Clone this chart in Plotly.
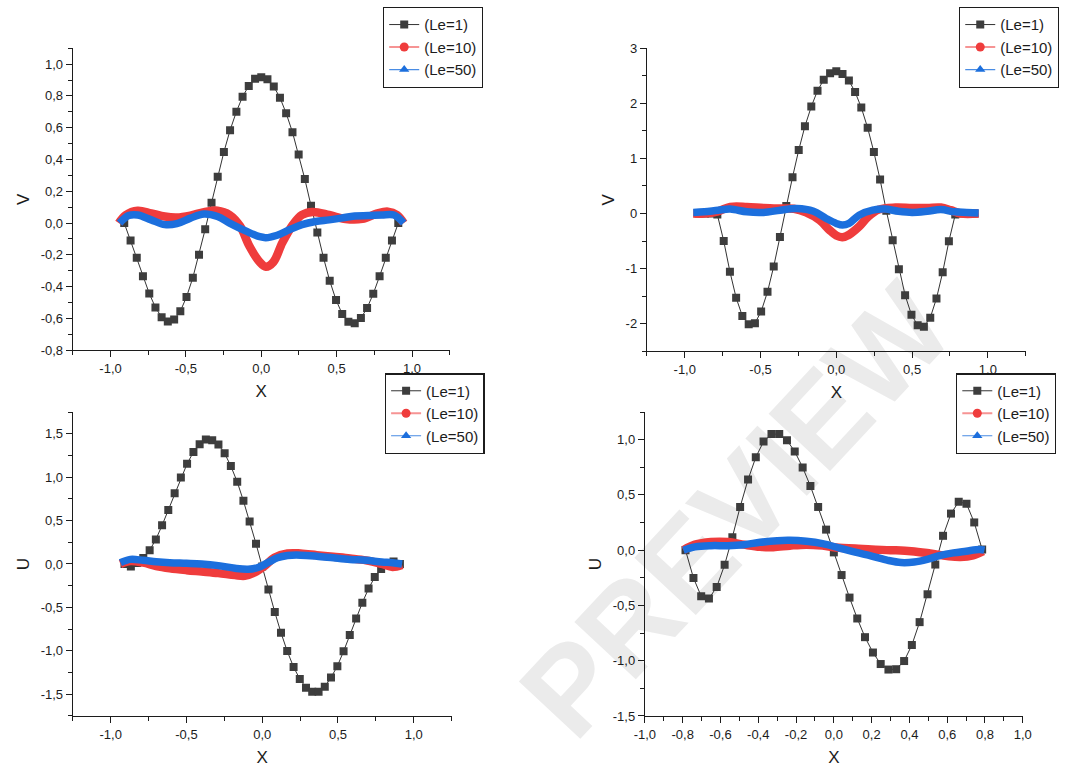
import plotly.graph_objects as go

# ---------------- data ----------------
LABELS = ["(Le=1)", "(Le=10)", "(Le=50)"]

X45 = [-0.909, -0.867, -0.826, -0.785, -0.743, -0.702, -0.661, -0.620, -0.578, -0.537,
       -0.496, -0.454, -0.413, -0.372, -0.330, -0.289, -0.248, -0.207, -0.165, -0.124,
       -0.083, -0.041, 0.0, 0.041, 0.083, 0.124, 0.165, 0.207, 0.248, 0.289,
       0.330, 0.372, 0.413, 0.454, 0.496, 0.537, 0.578, 0.620, 0.661, 0.702,
       0.743, 0.785, 0.826, 0.867, 0.909]
X39 = [-0.785, -0.743, -0.702, -0.661, -0.620, -0.578, -0.537, -0.496, -0.454, -0.413,
       -0.372, -0.330, -0.289, -0.248, -0.207, -0.165, -0.124, -0.083, -0.041, 0.0,
       0.041, 0.083, 0.124, 0.165, 0.207, 0.248, 0.289, 0.330, 0.372, 0.413,
       0.454, 0.496, 0.537, 0.578, 0.620, 0.661, 0.702, 0.743, 0.785]

# Panel 1 (V, top-left)
P1_LE1 = [0.0, -0.109, -0.219, -0.334, -0.443, -0.531, -0.592, -0.619, -0.607, -0.555,
          -0.465, -0.344, -0.199, -0.039, 0.127, 0.291, 0.447, 0.584, 0.701, 0.795,
          0.863, 0.908, 0.918, 0.904, 0.859, 0.789, 0.691, 0.572, 0.432, 0.277,
          0.109, -0.059, -0.219, -0.363, -0.484, -0.572, -0.621, -0.631, -0.598, -0.535,
          -0.445, -0.334, -0.219, -0.109, 0.0]
P1_LE10_X = [-0.945, -0.90, -0.82, -0.73, -0.64, -0.56, -0.47, -0.38, -0.29, -0.21, -0.14, -0.08,
             -0.01, 0.03, 0.08, 0.14, 0.21, 0.27, 0.34, 0.45, 0.56, 0.67, 0.77, 0.84, 0.90, 0.945]
P1_LE10_Y = [0.0, 0.05, 0.078, 0.061, 0.041, 0.035, 0.047, 0.068, 0.078, 0.051, -0.02, -0.143,
             -0.246, -0.275, -0.246, -0.123, -0.01, 0.051, 0.070, 0.051, 0.025, 0.026, 0.061, 0.072, 0.051, 0.0]
P1_LE50_X = [-0.94, -0.88, -0.82, -0.73, -0.64, -0.56, -0.47, -0.38, -0.29, -0.21, -0.10, -0.01,
             0.03, 0.10, 0.19, 0.27, 0.36, 0.45, 0.53, 0.62, 0.71, 0.80, 0.88, 0.945]
P1_LE50_Y = [0.0, 0.047, 0.051, 0.02, -0.01, -0.004, 0.031, 0.057, 0.041, 0.0, -0.051, -0.086,
             -0.092, -0.078, -0.041, -0.01, 0.01, 0.02, 0.031, 0.045, 0.047, 0.051, 0.051, 0.0]

# Panel 2 (V, top-right)
P2_LE1 = [0.0, 0.0, 0.0, -0.02, -0.498, -1.056, -1.530, -1.862, -2.011, -1.993,
          -1.779, -1.423, -0.961, -0.427, 0.136, 0.658, 1.151, 1.584, 1.940, 2.230,
          2.426, 2.544, 2.580, 2.533, 2.414, 2.206, 1.922, 1.554, 1.115, 0.617,
          0.05, -0.486, -1.014, -1.483, -1.839, -2.028, -2.058, -1.892, -1.542, -1.068,
          -0.504, -0.02, 0.0, 0.0, 0.0]
P2_LE10_X = [-0.944, -0.87, -0.78, -0.70, -0.59, -0.48, -0.37, -0.28, -0.20, -0.11, -0.045, 0.0,
             0.04, 0.084, 0.15, 0.21, 0.28, 0.39, 0.50, 0.60, 0.69, 0.755, 0.82, 0.94]
P2_LE10_Y = [0.0, 0.0, 0.04, 0.12, 0.12, 0.10, 0.09, 0.085, 0.02, -0.12, -0.30, -0.40,
             -0.43, -0.385, -0.24, -0.06, 0.07, 0.107, 0.10, 0.10, 0.107, 0.06, 0.0, 0.0]
P2_LE50_X = [-0.944, -0.87, -0.78, -0.70, -0.59, -0.48, -0.37, -0.26, -0.15, -0.067, 0.0, 0.041,
             0.084, 0.15, 0.24, 0.32, 0.41, 0.50, 0.60, 0.69, 0.78, 0.86, 0.94]
P2_LE50_Y = [0.02, 0.03, 0.06, 0.08, 0.03, 0.02, 0.06, 0.09, 0.04, -0.09, -0.18, -0.21,
             -0.18, -0.03, 0.06, 0.08, 0.04, 0.02, 0.04, 0.07, 0.03, 0.02, 0.01]

# Panel 3 (U, bottom-left)
P3_LE1 = [0.0, -0.03, 0.01, 0.07, 0.158, 0.283, 0.445, 0.622, 0.814, 0.995,
          1.153, 1.289, 1.380, 1.432, 1.425, 1.376, 1.274, 1.127, 0.946, 0.727,
          0.490, 0.234, -0.03, -0.294, -0.554, -0.792, -1.003, -1.187, -1.323, -1.425,
          -1.470, -1.470, -1.413, -1.308, -1.176, -1.006, -0.818, -0.629, -0.445, -0.283,
          -0.151, -0.057, 0.0, 0.03, 0.0]
P3_LE10_X = [-0.936, -0.87, -0.785, -0.70, -0.61, -0.50, -0.40, -0.29, -0.18, -0.115, -0.05,
             0.015, 0.08, 0.167, 0.253, 0.36, 0.47, 0.58, 0.685, 0.79, 0.86, 0.923]
P3_LE10_Y = [0.0, 0.034, 0.015, -0.023, -0.049, -0.071, -0.087, -0.105, -0.128, -0.136, -0.098,
             -0.023, 0.071, 0.121, 0.121, 0.102, 0.083, 0.064, 0.042, 0.0, -0.034, -0.011]
P3_LE50_X = [-0.936, -0.87, -0.785, -0.70, -0.61, -0.50, -0.40, -0.29, -0.18, -0.093, -0.028,
             0.037, 0.10, 0.167, 0.253, 0.36, 0.47, 0.58, 0.685, 0.79, 0.86, 0.923]
P3_LE50_Y = [0.015, 0.053, 0.042, 0.026, 0.015, 0.008, 0.0, -0.019, -0.049, -0.060, -0.041,
             0.015, 0.071, 0.098, 0.102, 0.09, 0.071, 0.053, 0.042, 0.023, 0.015, 0.0]

# Panel 4 (U, bottom-right)
P4_LE1 = [0.0, -0.251, -0.417, -0.438, -0.334, -0.133, 0.118, 0.391, 0.639, 0.840,
          0.982, 1.050, 1.050, 0.994, 0.893, 0.749, 0.580, 0.391, 0.186, -0.02,
          -0.225, -0.429, -0.618, -0.787, -0.926, -1.030, -1.080, -1.077, -1.003, -0.858,
          -0.651, -0.399, -0.130, 0.130, 0.331, 0.438, 0.420, 0.251, 0.006]
P4_LE10_X = [-0.796, -0.735, -0.65, -0.56, -0.475, -0.39, -0.32, -0.233, -0.146, -0.06,
             0.027, 0.113, 0.20, 0.30, 0.41, 0.51, 0.60, 0.67, 0.737, 0.79]
P4_LE10_Y = [0.0, 0.05, 0.074, 0.074, 0.05, 0.03, 0.027, 0.041, 0.05, 0.041,
             0.021, 0.015, 0.006, 0.0, -0.009, -0.03, -0.053, -0.062, -0.047, -0.009]
P4_LE50_X = [-0.796, -0.735, -0.65, -0.56, -0.475, -0.39, -0.30, -0.233, -0.146, -0.06, 0.027,
             0.113, 0.20, 0.286, 0.356, 0.425, 0.494, 0.564, 0.633, 0.70, 0.77, 0.797]
P4_LE50_Y = [0.0, 0.03, 0.041, 0.041, 0.05, 0.071, 0.086, 0.089, 0.08, 0.059, 0.021,
             -0.018, -0.053, -0.092, -0.112, -0.107, -0.083, -0.047, -0.024, -0.009, 0.006, 0.0]

# tick labels
XT_A_VALS = [-1.0, -0.5, 0.0, 0.5, 1.0]
XT_A_TEXT = ["-1,0", "-0,5", "0,0", "0,5", "1,0"]
XT_B_VALS = [-1.0, -0.8, -0.6, -0.4, -0.2, 0.0, 0.2, 0.4, 0.6, 0.8, 1.0]
XT_B_TEXT = ["-1,0", "-0,8", "-0,6", "-0,4", "-0,2", "0,0", "0,2", "0,4", "0,6", "0,8", "1,0"]
YT1_VALS = [-0.8, -0.6, -0.4, -0.2, 0.0, 0.2, 0.4, 0.6, 0.8, 1.0]
YT1_TEXT = ["-0,8", "-0,6", "-0,4", "-0,2", "0,0", "0,2", "0,4", "0,6", "0,8", "1,0"]
YT2_VALS = [-2, -1, 0, 1, 2, 3]
YT2_TEXT = ["-2", "-1", "0", "1", "2", "3"]
YT3_VALS = [-1.5, -1.0, -0.5, 0.0, 0.5, 1.0, 1.5]
YT3_TEXT = ["-1,5", "-1,0", "-0,5", "0,0", "0,5", "1,0", "1,5"]
YT4_VALS = [-1.5, -1.0, -0.5, 0.0, 0.5, 1.0]
YT4_TEXT = ["-1,5", "-1,0", "-0,5", "0,0", "0,5", "1,0"]

WATERMARK = "PREVIEW"

# ---------------- style ----------------
FONT = "Liberation Sans, Arial, sans-serif"
INK = "#1c1c1c"
GRAY = "#3d3d3d"
RED = "#ef3c3c"
BLUE = "#1c6fdd"

fig = go.Figure()

panels = [
    dict(n=1, x1=X45, y1=P1_LE1, rx=P1_LE10_X, ry=P1_LE10_Y, bx=P1_LE50_X, by=P1_LE50_Y),
    dict(n=2, x1=X45, y1=P2_LE1, rx=P2_LE10_X, ry=P2_LE10_Y, bx=P2_LE50_X, by=P2_LE50_Y),
    dict(n=3, x1=X45, y1=P3_LE1, rx=P3_LE10_X, ry=P3_LE10_Y, bx=P3_LE50_X, by=P3_LE50_Y),
    dict(n=4, x1=X39, y1=P4_LE1, rx=P4_LE10_X, ry=P4_LE10_Y, bx=P4_LE50_X, by=P4_LE50_Y),
]

for p in panels:
    n = p["n"]
    xa = "x" if n == 1 else f"x{n}"
    ya = "y" if n == 1 else f"y{n}"
    lg = "legend" if n == 1 else f"legend{n}"
    fig.add_trace(go.Scatter(
        x=p["x1"], y=p["y1"], mode="lines+markers", name=LABELS[0],
        line=dict(color="#333333", width=1),
        marker=dict(symbol="square", size=8, color=GRAY),
        xaxis=xa, yaxis=ya, legend=lg))
    fig.add_trace(go.Scatter(
        x=p["rx"], y=p["ry"], mode="lines", name=LABELS[1], showlegend=False,
        line=dict(color=RED, width=8.5, shape="spline", smoothing=1.0),
        xaxis=xa, yaxis=ya))
    fig.add_trace(go.Scatter(
        x=p["bx"], y=p["by"], mode="lines", name=LABELS[2], showlegend=False,
        line=dict(color=BLUE, width=7.5, shape="spline", smoothing=1.0),
        xaxis=xa, yaxis=ya))
    # legend entries
    fig.add_trace(go.Scatter(
        x=[None], y=[None], mode="lines+markers", name=LABELS[1],
        line=dict(color="rgba(239,60,60,0.55)", width=2),
        marker=dict(symbol="circle", size=9, color=RED),
        xaxis=xa, yaxis=ya, legend=lg))
    fig.add_trace(go.Scatter(
        x=[None], y=[None], mode="lines+markers", name=LABELS[2],
        line=dict(color="rgba(28,111,221,0.8)", width=1.2),
        marker=dict(symbol="triangle-up", size=9, color=BLUE),
        xaxis=xa, yaxis=ya, legend=lg))


def axis(domain, rng, tvals, ttext, minor_dtick, minor_tick0, title, anchor, standoff):
    return dict(
        domain=domain, range=rng, anchor=anchor,
        tickmode="array", tickvals=tvals, ticktext=ttext,
        ticks="outside", ticklen=6, tickwidth=1.3, tickcolor=INK,
        minor=dict(tickmode="linear", tick0=minor_tick0, dtick=minor_dtick,
                   ticks="outside", ticklen=3.5, tickwidth=1.3, tickcolor=INK, showgrid=False),
        showline=True, linecolor=INK, linewidth=1.3, mirror=False,
        showgrid=False, zeroline=False,
        tickfont=dict(family=FONT, size=13, color=INK),
        title=dict(text=title, standoff=standoff, font=dict(family=FONT, size=17, color=INK)),
    )


def legend(x, y):
    return dict(x=x, y=y, xanchor="left", yanchor="top",
                bgcolor="white", bordercolor=INK, borderwidth=1.3,
                font=dict(family=FONT, size=15, color=INK),
                tracegroupgap=0, itemsizing="trace")


fig.update_layout(
    width=1070, height=774,
    margin=dict(l=0, r=0, t=0, b=0),
    paper_bgcolor="white", plot_bgcolor="rgba(0,0,0,0)",
    font=dict(family=FONT, color=INK),
    xaxis=axis([0.0589, 0.4178], [-1.25, 1.25], XT_A_VALS, XT_A_TEXT, 0.25, -1.25, "X", "y", 10),
    yaxis=axis([0.5478, 0.9457], [-0.8, 1.1], YT1_VALS, YT1_TEXT, 0.1, -0.8, "V", "x", 6),
    xaxis2=axis([0.6056, 0.9664], [-1.25, 1.25], XT_A_VALS, XT_A_TEXT, 0.25, -1.25, "X", "y2", 10),
    yaxis2=axis([0.5465, 0.9457], [-2.5, 3.0], YT2_VALS, YT2_TEXT, 0.5, -2.5, "V", "x2", 6),
    xaxis3=axis([0.0589, 0.4196], [-1.25, 1.25], XT_A_VALS, XT_A_TEXT, 0.25, -1.25, "X", "y3", 10),
    yaxis3=axis([0.0659, 0.4664], [-1.75, 1.75], YT3_VALS, YT3_TEXT, 0.25, -1.75, "U", "x3", 6),
    xaxis4=axis([0.6037, 0.9636], [-1.0, 1.0], XT_B_VALS, XT_B_TEXT, 0.1, -1.0, "X", "y4", 10),
    yaxis4=axis([0.0659, 0.4664], [-1.5, 1.25], YT4_VALS, YT4_TEXT, 0.25, -1.5, "U", "x4", 6),
    legend=legend(0.3542, 1.0),
    legend2=legend(0.9028, 1.0),
    legend3=legend(0.3560, 0.5175),
    legend4=legend(0.9000, 0.5175),
    showlegend=True,
    shapes=[dict(
        type="rect", xref="paper", yref="paper", x0=0.40, x1=0.964, y0=0.05, y1=0.645,
        line=dict(width=0), fillcolor="rgba(0,0,0,0)", layer="below",
        label=dict(text=WATERMARK, textangle=-47, textposition="middle center",
                   font=dict(family=FONT, size=122, color="#ebebeb", weight="bold")),
    )],
)

fig.write_html("out.html")
